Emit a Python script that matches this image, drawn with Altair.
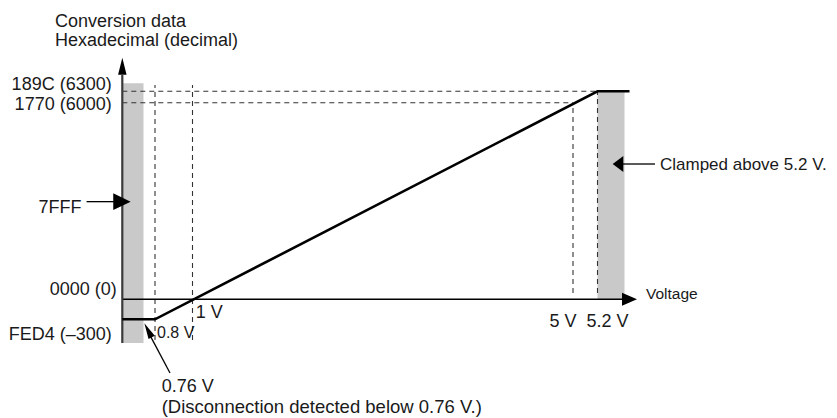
import altair as alt
import pandas as pd

# ---------------- data (voltage in V, conversion value in decimal) ----------------
# conversion characteristic
LINE_V = [0.7, 0.8, 5.2, 5.52]
LINE_Y = [-300, -300, 6300, 6300]

# shaded regions (disconnection below 0.76 V, clamped above 5.2 V)
BAND_X1 = [0.7, 5.2]
BAND_X2 = [0.76, 5.47]
BAND_Y1 = [-655, 0]
BAND_Y2 = [6510, 6300]

# axes extents
YAXIS_V = 0.7
YAXIS_BOTTOM = -655
YAXIS_TOP = 6729
YAXIS_HEAD = 6961
YAXIS_TIP = 7194
XAXIS_END = 5.445
XAXIS_HEAD = 5.52
XAXIS_TIP = 5.595

# dashed guides
HDASH_Y = [6300, 6000]
HDASH_XEND = [5.2, 5.0]
VDASH_X = [0.8, 1.0, 5.0, 5.2]
VDASH_TOP = [6465, 6465, 6000, 6300]
VDASH_BOT = [-610, -610, 192, 192]

# annotation arrows
ARR_7FFF_X = [0.599, 0.677]
ARR_7FFF_Y = 2980
ARR_7FFF_HEAD = 0.699
ARR_CLAMP_X = [5.455, 5.775]
ARR_CLAMP_Y = 4129
ARR_CLAMP_HEAD = 5.405
ARR_076_X = [0.88, 0.785]
ARR_076_Y = [-1105, -560]
ARR_076_HEAD = (0.7757, -466)

# ---------------- scales (schematic, piecewise linear) ----------------
XS = alt.Scale(domain=[0.7, 0.76, 0.8, 1.0, 5.0, 5.2, 6.0],
               range=[114.3, 135.5, 147, 184.5, 565, 589.5, 669.5],
               zero=False, nice=False)
YS = alt.Scale(domain=[-300, 0, 6000, 6300],
               range=[311.3, 291.3, 94.7, 83.3],
               zero=False, nice=False)

INK = "#1a1a1a"
FONT = "Liberation Sans"


def X(f):
    return alt.X(f, type="quantitative", scale=XS, axis=None)


def Y(f):
    return alt.Y(f, type="quantitative", scale=YS, axis=None)


layers = []

# bands
bands = pd.DataFrame({"x1": BAND_X1, "x2": BAND_X2, "y1": BAND_Y1, "y2": BAND_Y2})
layers.append(alt.Chart(bands).mark_rect(color="#c9c9c9").encode(
    x=X("x1"), x2="x2", y=Y("y1"), y2="y2"))

# dashed guides
hd = pd.DataFrame({"y": HDASH_Y, "x1": [YAXIS_V] * len(HDASH_Y), "x2": HDASH_XEND})
layers.append(alt.Chart(hd).mark_rule(color="#333", strokeWidth=1.1, strokeDash=[5, 4]).encode(
    x=X("x1"), x2="x2", y=Y("y")))
vd = pd.DataFrame({"x": VDASH_X, "y1": VDASH_BOT, "y2": VDASH_TOP})
layers.append(alt.Chart(vd).mark_rule(color="#333", strokeWidth=1.1, strokeDash=[5, 4]).encode(
    x=X("x"), y=Y("y1"), y2="y2"))

# x axis (zero line)
xa = pd.DataFrame({"x1": [YAXIS_V], "x2": [XAXIS_END], "y": [0]})
layers.append(alt.Chart(xa).mark_rule(color="#000", strokeWidth=1.5).encode(
    x=X("x1"), x2="x2", y=Y("y")))
# y axis
ya = pd.DataFrame({"x": [YAXIS_V], "y1": [YAXIS_BOTTOM], "y2": [YAXIS_TOP]})
layers.append(alt.Chart(ya).mark_rule(color="#3a3a3a", strokeWidth=2.2).encode(
    x=X("x"), y=Y("y1"), y2="y2"))

# conversion line
ln = pd.DataFrame({"v": LINE_V, "y": LINE_Y})
layers.append(alt.Chart(ln).mark_line(color="#000", strokeWidth=2.6, strokeJoin="miter").encode(
    x=X("v"), y=Y("y"), order="v:Q"))

# thin arrow shafts
def shaft(xs, ys):
    d = pd.DataFrame({"x1": [xs[0]], "x2": [xs[1]], "y1": [ys[0]], "y2": [ys[1]]})
    return alt.Chart(d).mark_rule(color="#000", strokeWidth=1.3).encode(
        x=X("x1"), x2="x2", y=Y("y1"), y2="y2")

layers.append(shaft(ARR_7FFF_X, [ARR_7FFF_Y, ARR_7FFF_Y]))
layers.append(shaft(ARR_CLAMP_X, [ARR_CLAMP_Y, ARR_CLAMP_Y]))
layers.append(shaft(ARR_076_X, ARR_076_Y))


def head(xv, yv, w, size, angle):
    d = pd.DataFrame({"x": [xv], "y": [yv]})
    return alt.Chart(d).mark_point(
        shape=f"M0,-1L{w},1L{-w},1Z", size=size, angle=angle,
        filled=True, color="#000", opacity=1, strokeWidth=0).encode(x=X("x"), y=Y("y"))

layers.append(head(YAXIS_V, YAXIS_HEAD, 0.5, 289, 0))
layers.append(head(XAXIS_HEAD, 0, 0.87, 225, 90))
layers.append(head(ARR_7FFF_HEAD, ARR_7FFF_Y, 0.96, 303, 90))
layers.append(head(ARR_CLAMP_HEAD, ARR_CLAMP_Y, 1.5, 114, 270))
layers.append(head(ARR_076_HEAD[0], ARR_076_HEAD[1], 0.44, 256, 332.7))


def txt(t, xv, yv, align, dx, dy, size=18):
    d = pd.DataFrame({"x": [xv], "y": [yv], "t": [t]})
    return alt.Chart(d).mark_text(
        align=align, baseline="alphabetic", dx=dx, dy=dy, fontSize=size,
        font=FONT, color=INK).encode(x=X("x"), y=Y("y"), text="t:N")

layers += [
    txt("Conversion data", YAXIS_V, YAXIS_TIP, "left", -67.3, -30),
    txt("Hexadecimal (decimal)", YAXIS_V, YAXIS_TIP, "left", -67.3, -11.8),
    txt("189C (6300)", YAXIS_V, 6300, "right", -10.6, -1.3),
    txt("1770 (6000)", YAXIS_V, 6000, "right", -10.6, 7.3),
    txt("7FFF", ARR_7FFF_X[0], ARR_7FFF_Y, "right", -5, 11.3),
    txt("0000 (0)", YAXIS_V, 0, "right", -5.6, -4.3),
    txt("FED4 (\u2013300)", YAXIS_V, -300, "right", -10.6, 20.7),
    txt("1 V", 1.0, 0, "left", 3.2, 19),
    txt("0.8 V", 0.8, -300, "left", 2, 19, 16),
    txt("5 V", 5.0, 0, "center", -10, 27.7),
    txt("5.2 V", 5.2, 0, "center", 10, 27.7),
    txt("Voltage", XAXIS_TIP, 0, "left", 9, 0, 15.5),
    txt("Clamped above 5.2 V.", ARR_CLAMP_X[1], ARR_CLAMP_Y, "left", 5, 6, 17),
    txt("0.76 V", ARR_076_X[0], ARR_076_Y[0], "left", -8.3, 18.7),
    txt("(Disconnection detected below 0.76 V.)", ARR_076_X[0], ARR_076_Y[0], "left", -8.3, 40.3, 18.5),
]

chart = alt.layer(*layers).properties(
    width=821, height=410,
    autosize=alt.AutoSizeParams(type="none"),
    padding=0,
).configure_view(stroke=None)

chart.save("out.html", embed_options={"renderer": "svg", "actions": False})
